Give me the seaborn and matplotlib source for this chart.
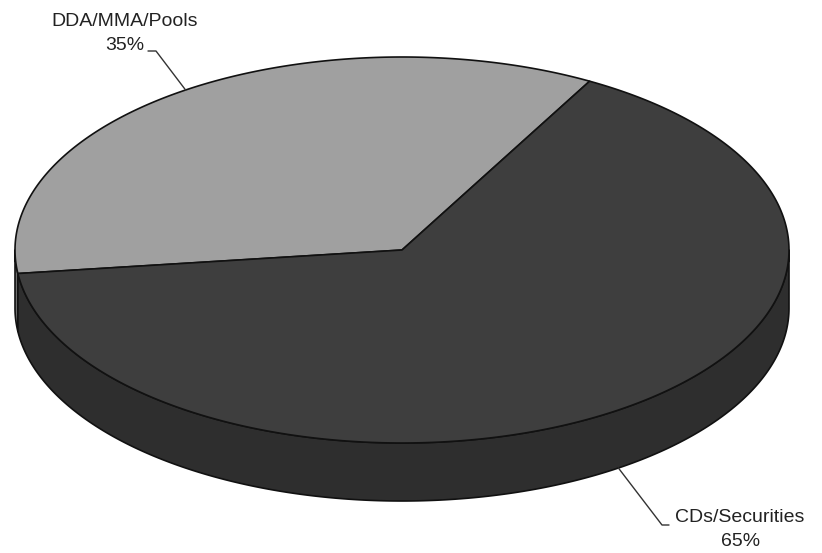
import numpy as np
import matplotlib
matplotlib.use("Agg")
import matplotlib.pyplot as plt
import seaborn as sns
from matplotlib.patches import Polygon

# Portfolio composition
categories = ["DDA/MMA/Pools", "CDs/Securities"]
shares = [35, 65]
top_colors = ["#a0a0a0", "#3e3e3e"]
side_colors = ["#6e6e6e", "#2e2e2e"]

sns.set_theme(style="white")
plt.rcParams["font.family"] = ["Liberation Sans", "DejaVu Sans"]

fig = plt.figure(figsize=(8.22, 5.53), dpi=100)
ax = fig.add_axes([0, 0, 1, 1])
ax.set_xlim(0, 822)
ax.set_ylim(553, 0)
ax.axis("off")

# Tilted-disc geometry (pixel units)
cx, cy, rx, ry, depth = 402, 250, 387, 193, 58
start_angle = 61.0

fractions = np.array(shares, dtype=float) / np.sum(shares)
bounds = start_angle + 360.0 * np.concatenate([[0], np.cumsum(fractions)])


def rim(t0, t1, dy=0.0):
    n = max(2, int(abs(t1 - t0) * 2) + 2)
    t = np.radians(np.linspace(t0, t1, n))
    return np.column_stack([cx + rx * np.cos(t), cy - ry * np.sin(t) + dy])


edge_kw = dict(edgecolor="#111111", linewidth=1.2, joinstyle="round")

# Front-facing side walls (parametric angles in 180..360, modulo 360)
for i in range(len(shares)):
    a0, a1 = bounds[i], bounds[i + 1]
    for off in (-360.0, 0.0, 360.0):
        lo = max(a0, 180.0 + off)
        hi = min(a1, 360.0 + off)
        if hi - lo > 0.05:
            upper = rim(lo, hi)
            lower = rim(hi, lo, depth)
            ax.add_patch(Polygon(np.vstack([upper, lower]), closed=True,
                                 facecolor=side_colors[i], zorder=1, **edge_kw))

# Top faces
for i in range(len(shares)):
    pts = np.vstack([[cx, cy], rim(bounds[i], bounds[i + 1])])
    ax.add_patch(Polygon(pts, closed=True, facecolor=top_colors[i],
                         zorder=2, **edge_kw))

# Labels with leader lines anchored at slice mid-angles
text_kw = dict(fontsize=14, color="#222222", ha="center", va="center")
line_kw = dict(color="#333333", linewidth=1.0, zorder=3)

mid0 = np.radians((bounds[0] + bounds[1]) / 2)
ax0 = cx + rx * np.cos(mid0)
ay0 = cy - ry * np.sin(mid0)
ax.plot([148, 156, ax0], [51, 51, ay0], **line_kw)
ax.text(125, 22, categories[0], **text_kw)
ax.text(125, 45, f"{shares[0]}%", **text_kw)

mid1 = np.radians((bounds[1] + bounds[2]) / 2)
ax1 = cx + rx * np.cos(mid1)
ay1 = cy - ry * np.sin(mid1) + depth
ax.plot([ax1, 662, 669], [ay1, 525, 525], **line_kw)
ax.text(740, 518, categories[1], **text_kw)
ax.text(741, 541, f"{shares[1]}%", **text_kw)

fig.savefig("out.png", dpi=100, facecolor="white")
